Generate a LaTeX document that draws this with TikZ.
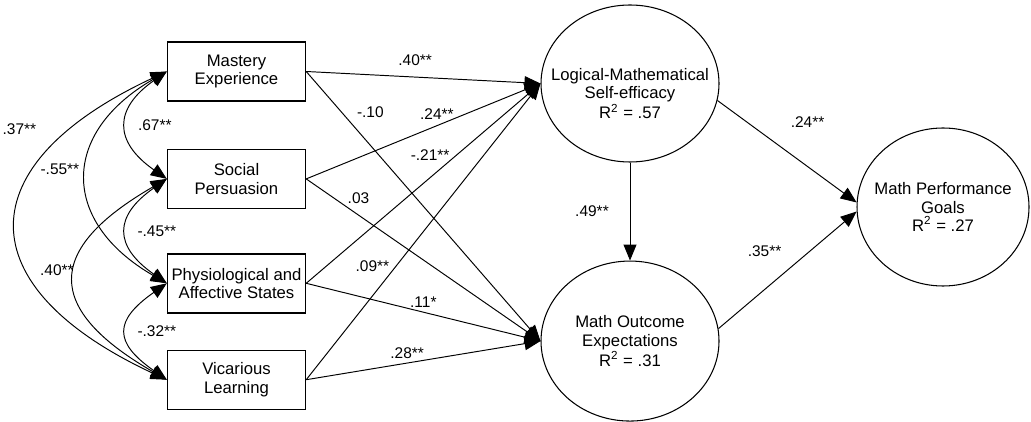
\documentclass[tikz,border=0pt]{standalone}
\usepackage{fontspec}
\setmainfont{Liberation Sans}
\usetikzlibrary{arrows.meta, positioning, shapes.geometric}

\begin{document}
\begin{tikzpicture}[
        font=\fontsize{9.5}{10.4}\selectfont,
        var_box/.style={
            rectangle,
            draw,
            line width=0.8pt,
            align=center,
            minimum width=2.76cm,
            minimum height=1.18cm,
            inner sep=0pt
        },
        latent/.style={
            ellipse,
            draw,
            line width=0.6pt,
            align=center,
            inner sep=-0.4cm
        },
        path_arrow/.style={
            -{Triangle[length=0.32cm, width=0.26cm]},
            line width=0.55pt
        },
        corr_arrow/.style={
            {Triangle[length=0.32cm, width=0.26cm]}-{Triangle[length=0.32cm, width=0.26cm]},
            line width=0.55pt
        },
        coef/.style={font=\fontsize{8.8}{10}\selectfont, inner sep=1pt}
    ]
    \useasboundingbox (0,0) rectangle (20.62,-8.44);

    % Sources of self-efficacy
    \node[var_box] (me) at (4.73,-1.43) {Mastery\\Experience};
    \node[var_box, below=0.94cm of me] (sp) {Social\\Persuasion};
    \node[var_box, below=0.88cm of sp] (pa) {Physiological and\\Affective States};
    \node[var_box, below=0.72cm of pa] (vl) {Vicarious\\Learning};

    % Latent outcomes
    \node[latent, minimum width=3.56cm, minimum height=3.14cm] (lm) at (12.60,-1.67) {\rule{0pt}{0.65cm}Logical-Mathematical\\Self-efficacy\\R\textsuperscript{2} = .57};
    \node[latent, minimum width=3.56cm, minimum height=3.2cm, below=1.96cm of lm] (mo) {Math Outcome\\Expectations\\R\textsuperscript{2} = .31};
    \node[latent, minimum width=3.44cm, minimum height=3.16cm] (mpg) at (18.86,-4.14) {Math Performance\\Goals\\R\textsuperscript{2} = .27};

    % Correlations among the sources
    \draw[corr_arrow] (me.west) to[out=215, in=145, distance=1.3cm] node[coef, pos=0.5, xshift=0.56cm] {.67**} (sp.west);
    \draw[corr_arrow] (sp.west) to[out=215, in=145, distance=1.3cm] node[coef, pos=0.5, xshift=0.6cm] {-.45**} (pa.west);
    \draw[corr_arrow] (pa.west) to[out=215, in=145, distance=1.3cm] node[coef, pos=0.5, xshift=0.6cm] {-.32**} (vl.west);
    \draw[corr_arrow] (me.west) to[out=210, in=150, distance=2.46cm] node[coef, pos=0.5, xshift=-0.54cm, yshift=0.16cm] {-.55**} (pa.west);
    \draw[corr_arrow] (sp.west) to[out=210, in=150, distance=2.83cm] node[coef, pos=0.5, xshift=-0.36cm, yshift=0.18cm] {.40**} (vl.west);
    \draw[corr_arrow] (me.west) to[out=205, in=155, distance=4.41cm] node[coef, pos=0.25, xshift=-0.7cm, yshift=0.34cm] {.37**} (vl.west);

    % Paths to self-efficacy
    \draw[path_arrow] (me.east) -- (lm.west) node[coef, pos=0.465, yshift=0.34cm] {.40**};
    \draw[path_arrow] (sp.east) -- (lm.west) node[coef, pos=0.558, yshift=0.24cm] {.24**};
    \draw[path_arrow] (pa.east) -- (lm.west) node[coef, pos=0.529, yshift=0.46cm] {-.21**};
    \draw[path_arrow] (vl.east) -- (lm.west) node[coef, pos=0.383, xshift=-0.47cm] {.09**};

    % Paths to outcome expectations
    \draw[path_arrow] (me.east) -- (mo.west) node[coef, pos=0.15, xshift=0.58cm] {-.10};
    \draw[path_arrow] (sp.east) -- (mo.west) node[coef, pos=0.223, yshift=0.33cm] {.03};
    \draw[path_arrow] (pa.east) -- (mo.west) node[coef, pos=0.5, yshift=0.2cm] {.11*};
    \draw[path_arrow] (vl.east) -- (mo.west) node[coef, pos=0.431, yshift=0.19cm] {.28**};

    % Paths to performance goals
    \draw[path_arrow] (lm.south) -- (mo.north) node[coef, pos=0.5, xshift=-0.76cm] {.49**};
    \draw[path_arrow] (lm.-11) -- (mpg.177) node[coef, pos=0.4, xshift=0.69cm, yshift=0.38cm] {.24**};
    \draw[path_arrow] (mo.8) -- (mpg.183) node[coef, pos=0.5, xshift=-0.46cm, yshift=0.37cm] {.35**};

\end{tikzpicture}
\end{document}
